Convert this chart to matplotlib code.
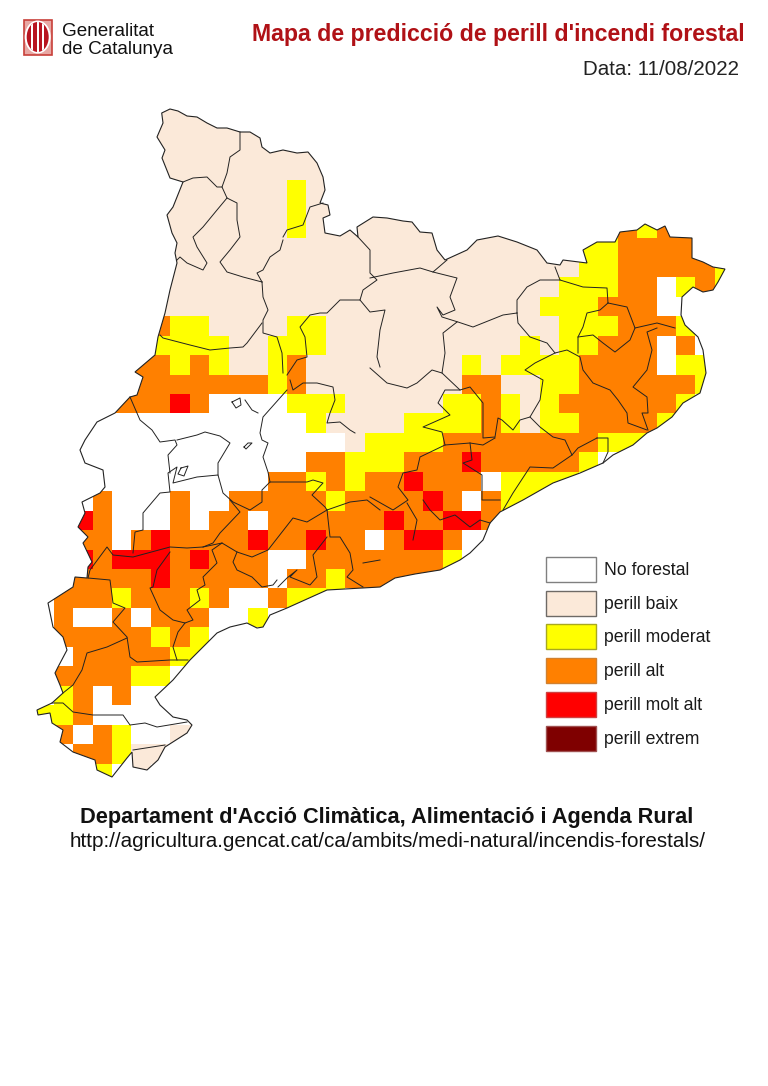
import matplotlib
matplotlib.use('Agg')
import matplotlib.pyplot as plt
import numpy
from matplotlib.colors import ListedColormap
from matplotlib.patches import Ellipse, Polygon, Rectangle

# danger class per grid cell, 36 columns, 4 chars per group
gridRows = [
    '.... .... .... .... .... .... .... .... ....',
    '.... .... .... .... .... .... .... .... ....',
    '.... .... .... .... .... .... .... .... ....',
    '.... .... .... .... .... .... .... .... ....',
    '.... .... .... .y.. .... .... .... .... ....',
    '.... .... .... .y.. .... .... .... .... ....',
    '.... .... .... .y.. .... .... .... ..oy ooo.',
    '.... .... .... .... .... .... .... yyoo ooo.',
    '.... .... .... .... .... .... .... yyoo oooy',
    '.... .... .... .... .... .... ...y yyoo wyoy',
    '.... .... .... .... .... .... ..yy yooo ww..',
    '.... ..oy y... .yy. .... .... ...y yyoo oy..',
    '.... ..yy yy.. yyy. .... .... .y.y yooo wow.',
    '.... .ooy oy.. yo.. .... ..y. yyyy oooo wyy.',
    '.... .ooo oooo yo.. .... ..oo ..yy oooo ooy.',
    '.... ooor owww wyyy .... .yyo y.yo oooo oy..',
    'wwww wwww wwww wwy. ...y yyyo y.yy oooo y...',
    'wwww wwww wwww wwww .yyy yooo oooo oyyy wwww',
    'wwww wwww wwww wwoo yyyo ooro oooo ywww wwww',
    'wwww wwww wwww ooyo yoor ooow yyyy wwww wwww',
    'wwwo wwwo wwoo oooy oooo rowo yyww wwww wwww',
    'wwro wwwo woow oooo ooro orro wwww wwww wwww',
    'wwoo woro ooor ooro owor roww wwww wwww wwww',
    'wwro rrro rooo wwoo oooo oyww wwww wwww wwww',
    'wwoo ooro oooo wooy oooo owww wwww wwww wwww',
    'wooo yooo yoww oyyy wwww wwww wwww wwww wwww',
    'woww owoo owwy wwww wwww wwww wwww wwww wwww',
    'wooo ooyo ywww wwww wwww wwww wwww wwww wwww',
    'wwoo oooy ywww wwww wwww wwww wwww wwww wwww',
    'wooo oyyw wwww wwww wwww wwww wwww wwww wwww',
    'wyow owww wwww wwww wwww wwww wwww wwww wwww',
    'yyow wwww ..ww wwww wwww wwww wwww wwww wwww',
    'wowo yww. .www wwww wwww wwww wwww wwww wwww',
    'wwoo y... wwww wwww wwww wwww wwww wwww wwww',
    'wwwy w.ww wwww wwww wwww wwww wwww wwww wwww',
]
classCodes = 'w.yor'
classColors = ['#ffffff', '#fbe9d9', '#ffff00', '#ff8000', '#ff0000']

legendLabels = ['No forestal', 'perill baix', 'perill moderat', 'perill alt',
                'perill molt alt', 'perill extrem']
legendColors = ['#ffffff', '#fbe9d9', '#ffff00', '#ff8000', '#ff0000', '#7f0000']
legendEdges = ['#808080', '#6e6a66', '#a8a820', '#d08030', '#d04040', '#a05050']

gridX0 = 34.15
gridY0 = 102.2
cellSize = 19.45

catalonia = [
    (161.7, 113), (170, 109), (178, 111), (187, 116), (197, 117), (207, 123), (217, 128), (227, 128),
    (240, 132), (250, 132), (260, 138), (262, 147), (270, 153), (283, 150), (297, 153), (308, 152),
    (317, 163), (323, 177), (325, 190), (320, 203), (328, 205), (330, 215), (323, 218), (325, 233),
    (340, 236), (350, 230), (358, 237), (357, 227), (373, 217), (387, 218), (403, 221), (412, 222),
    (420, 232), (432, 233), (437, 250), (445, 260), (467, 250), (477, 240), (498, 236), (517, 242),
    (537, 250), (547, 263), (560, 265), (563, 260), (587, 263), (583, 250), (597, 242), (615, 242),
    (620, 232), (637, 230), (645, 224), (657, 230), (665, 226), (670, 237), (692, 238), (692, 258),
    (703, 262), (713, 267), (725, 269), (718, 282), (713, 290), (703, 292), (693, 287), (682, 297),
    (681, 315), (685, 325), (698, 337), (703, 350), (706, 373), (700, 393), (683, 403), (672, 417),
    (657, 428), (647, 433), (633, 445), (613, 455), (603, 463), (580, 473), (553, 483), (523, 500),
    (500, 512), (490, 523), (483, 540), (470, 553), (460, 560), (440, 570), (415, 574), (395, 578),
    (380, 587), (327, 590), (287, 608), (270, 615), (263, 627), (257, 628), (247, 623), (230, 627),
    (217, 633), (203, 647), (190, 660), (173, 680), (155, 697), (160, 705), (173, 717), (187, 720),
    (192, 725), (187, 733), (165, 747), (158, 760), (147, 770), (133, 767), (132, 752), (127, 758),
    (112, 777), (97, 770), (95, 760), (73, 752), (60, 742), (63, 730), (52, 723), (50, 713),
    (38, 715), (37, 710), (52, 703), (63, 693), (60, 685), (55, 673), (58, 667), (67, 650),
    (63, 637), (53, 627), (48, 603), (73, 587), (75, 577), (87, 578), (88, 567), (92, 562),
    (83, 543), (88, 537), (78, 527), (85, 513), (82, 502), (100, 493), (105, 487), (103, 470),
    (85, 463), (80, 450), (85, 440), (97, 422), (115, 413), (130, 397), (137, 395), (143, 377),
    (135, 372), (155, 355), (158, 337), (165, 313), (170, 290), (177, 263), (175, 253), (177, 243),
    (172, 233), (167, 215), (173, 207), (183, 182), (170, 178), (162, 158), (165, 150), (157, 137),
    (163, 123),
]

comarcaLines = [
    [(240, 132), (240, 150), (230, 157), (227, 173), (222, 187), (227, 198), (237, 203), (237, 220), (240, 237),
     (230, 250), (220, 262), (227, 272), (243, 277), (262, 282)],
    [(183, 182), (193, 178), (207, 177), (217, 187), (222, 187)],
    [(227, 198), (217, 210), (203, 227), (193, 237), (197, 247), (207, 263), (203, 270), (187, 263), (180, 257),
     (177, 260)],
    [(262, 282), (263, 297), (268, 310), (263, 320), (263, 333), (277, 337), (282, 353), (283, 373)],
    [(262, 323), (247, 343), (243, 347), (230, 348), (210, 350), (190, 345), (163, 338), (160, 335)],
    [(283, 237), (287, 230), (303, 225), (310, 207), (323, 203)],
    [(283, 240), (280, 250), (270, 257), (263, 270), (257, 273), (262, 282)],
    [(358, 237), (370, 250), (370, 273), (377, 280), (363, 290), (360, 300), (340, 300), (327, 313), (320, 313),
     (310, 315), (300, 327), (305, 337), (307, 357), (297, 360), (287, 375)],
    [(290, 380), (293, 390), (303, 383), (317, 383), (333, 387), (335, 400), (330, 413), (327, 423), (340, 422),
     (350, 430), (355, 433)],
    [(360, 300), (370, 312), (385, 310), (380, 330), (377, 357), (380, 367)],
    [(287, 390), (263, 417), (260, 433), (262, 440), (268, 443), (263, 457), (268, 472), (270, 482)],
    [(370, 278), (393, 273), (420, 268), (433, 272), (447, 260)],
    [(433, 272), (457, 278), (450, 297), (455, 310), (443, 315), (437, 307), (442, 317), (458, 322), (473, 327),
     (503, 315), (517, 313)],
    [(517, 313), (517, 300), (527, 287), (540, 280), (560, 280)],
    [(555, 267), (560, 280), (583, 287), (607, 288), (608, 303)],
    [(608, 303), (600, 310), (587, 313), (583, 327), (578, 337), (578, 353)],
    [(517, 313), (518, 323), (530, 337), (547, 343), (555, 353), (567, 350), (580, 357), (583, 370), (593, 383),
     (610, 390), (618, 400), (627, 413), (628, 423), (647, 430)],
    [(608, 303), (627, 307), (635, 328), (630, 340), (615, 352), (603, 343), (593, 335), (578, 337)],
    [(635, 328), (657, 323), (675, 328)],
    [(657, 328), (647, 332), (652, 350), (647, 370), (633, 387), (647, 397), (648, 413), (642, 413), (648, 430)],
    [(555, 353), (535, 363), (525, 370), (543, 380), (540, 400), (530, 417), (540, 427), (553, 437), (565, 440),
     (572, 455), (553, 468), (530, 467), (513, 493), (503, 510)],
    [(597, 438), (608, 438), (608, 452), (603, 463)],
    [(597, 438), (578, 448), (572, 455)],
    [(530, 417), (520, 420), (513, 430), (502, 420), (498, 418), (495, 437), (483, 438), (483, 403), (470, 387),
     (460, 390), (445, 390), (438, 403), (450, 415), (423, 427), (442, 432), (445, 445), (470, 443), (483, 445),
     (495, 438)],
    [(460, 390), (442, 373), (445, 353), (443, 333), (457, 322)],
    [(442, 373), (432, 370), (417, 383), (407, 388), (387, 383), (370, 368)],
    [(445, 445), (420, 457), (417, 470), (403, 473), (398, 487), (408, 500), (393, 510), (370, 497)],
    [(470, 443), (472, 460), (463, 463), (482, 475), (482, 500), (500, 500)],
    [(407, 503), (417, 520), (413, 540)],
    [(423, 500), (430, 510), (440, 520), (455, 515), (470, 527), (480, 520), (490, 523)],
    [(88, 578), (90, 570), (107, 547), (113, 555), (133, 557), (170, 547), (187, 548), (203, 547), (222, 543),
     (237, 552), (252, 557), (268, 550), (293, 518), (307, 522), (327, 510)],
    [(133, 553), (135, 532), (143, 530), (143, 513), (160, 493), (170, 492), (168, 473), (177, 467), (173, 483),
     (197, 477), (218, 475), (223, 493), (233, 502), (250, 510), (262, 502), (262, 490), (270, 482), (307, 482),
     (313, 480), (323, 483), (312, 495), (325, 507), (327, 510)],
    [(130, 397), (140, 420), (152, 430), (160, 442), (175, 440), (177, 445), (168, 455), (170, 473)],
    [(177, 440), (197, 435), (205, 432), (220, 436), (230, 443), (218, 463), (218, 475)],
    [(230, 500), (240, 512), (220, 533), (213, 543), (203, 547)],
    [(170, 552), (157, 570), (153, 587), (150, 588), (160, 610), (173, 620), (185, 623), (178, 632), (173, 647),
     (177, 660)],
    [(185, 623), (193, 620), (187, 610), (200, 600), (197, 590), (205, 585), (203, 577), (217, 563), (212, 550),
     (222, 543)],
    [(237, 552), (233, 562), (237, 570), (252, 577), (262, 587), (273, 585), (277, 580)],
    [(88, 578), (110, 580), (113, 603), (125, 608), (113, 622), (127, 637), (130, 657), (137, 662), (170, 660),
     (188, 660)],
    [(127, 638), (107, 647), (87, 653), (82, 670), (73, 685), (63, 693)],
    [(52, 703), (63, 703), (73, 712), (93, 715), (123, 715), (130, 725), (145, 723), (157, 727), (187, 722)],
    [(133, 750), (165, 745)],
    [(327, 510), (330, 537), (340, 537), (350, 553), (353, 570), (347, 577), (363, 587)],
    [(327, 537), (313, 555), (317, 577), (310, 585), (290, 577), (297, 570), (287, 578), (278, 587)],
    [(363, 563), (380, 560)],
    [(327, 510), (350, 502), (367, 500), (380, 510)],
    [(232, 402), (240, 398), (241, 405), (236, 408), (232, 402)],
    [(245, 400), (252, 410), (258, 413)],
    [(181, 468), (188, 466), (184, 476), (178, 474), (181, 468)],
    [(244, 447), (248, 443), (252, 443), (246, 449), (244, 447)],
]

fig = plt.figure(figsize=(7.68, 10.86), dpi=100)
ax = fig.add_axes([0, 0, 1, 1])
ax.set_xlim(0, 768)
ax.set_ylim(1086, 0)
ax.axis('off')

#############################################################
# Map: grid of classes clipped to the region
#############################################################
cleanRows = [r.replace(' ', '') for r in gridRows]
grid = numpy.array([[classCodes.index(c) for c in r] for r in cleanRows])
xEdges = gridX0 + cellSize * numpy.arange(grid.shape[1] + 1)
yEdges = gridY0 + cellSize * numpy.arange(grid.shape[0] + 1)
mesh = ax.pcolormesh(xEdges, yEdges, grid, cmap=ListedColormap(classColors), vmin=-0.5, vmax=4.5)
mesh.set_clip_path(Polygon(catalonia, closed=True, transform=ax.transData))

ax.add_patch(Polygon(catalonia, closed=True, fill=False, ec='#222222', lw=0.8))
for line in comarcaLines:
    pts = numpy.array(line)
    ax.plot(pts[:, 0], pts[:, 1], c='#222222', lw=0.7)

#############################################################
# Legend
#############################################################
legendTops = [557, 591, 624, 658, 692, 726]
for top, label, color, edge in zip(legendTops, legendLabels, legendColors, legendEdges):
    ax.add_patch(Rectangle((546, top), 50, 24.5, fc=color, ec=edge, lw=1))
    ax.text(604, top + 18, label, fontsize=12.7, family='Liberation Sans', color='#1a1a1a', va='baseline')

#############################################################
# Header, logo and footer
#############################################################
ax.add_patch(Rectangle((23.5, 19.5), 28.5, 35, fc='#e8a8a4', ec='#c8403a', lw=1.2))
ax.add_patch(Ellipse((37.7, 37), 26, 33, fc='white', ec='none'))
emblem = Ellipse((37.7, 37), 22, 30, fc='#b81420', ec='none')
ax.add_patch(emblem)
for barX in (31.2, 36.7, 42.2):
    gap = Rectangle((barX, 20), 2.2, 34, fc='white', ec='none')
    ax.add_patch(gap)
    gap.set_clip_path(emblem)
ax.text(62, 36.5, 'Generalitat', fontsize=13.6, family='Liberation Sans', va='baseline', color='#111111')
ax.text(62, 54, 'de Catalunya', fontsize=13.6, family='Liberation Sans', va='baseline', color='#111111')

ax.text(745, 41.5, "Mapa de predicció de perill d'incendi forestal", fontsize=16.7, family='Liberation Sans',
        fontweight='bold', color='#b01116', ha='right', va='baseline')
ax.text(739, 75, 'Data: 11/08/2022', fontsize=14.8, family='Liberation Sans', color='#222222', ha='right',
        va='baseline')

ax.text(387, 823, "Departament d'Acció Climàtica, Alimentació i Agenda Rural", fontsize=15.7,
        family='Liberation Sans', fontweight='bold', color='#111111', ha='center', va='baseline')
ax.text(388, 847, 'http://agricultura.gencat.cat/ca/ambits/medi-natural/incendis-forestals/', fontsize=14.9,
        family='Liberation Sans', color='#111111', ha='center', va='baseline')

fig.savefig('out.png', dpi=100)
